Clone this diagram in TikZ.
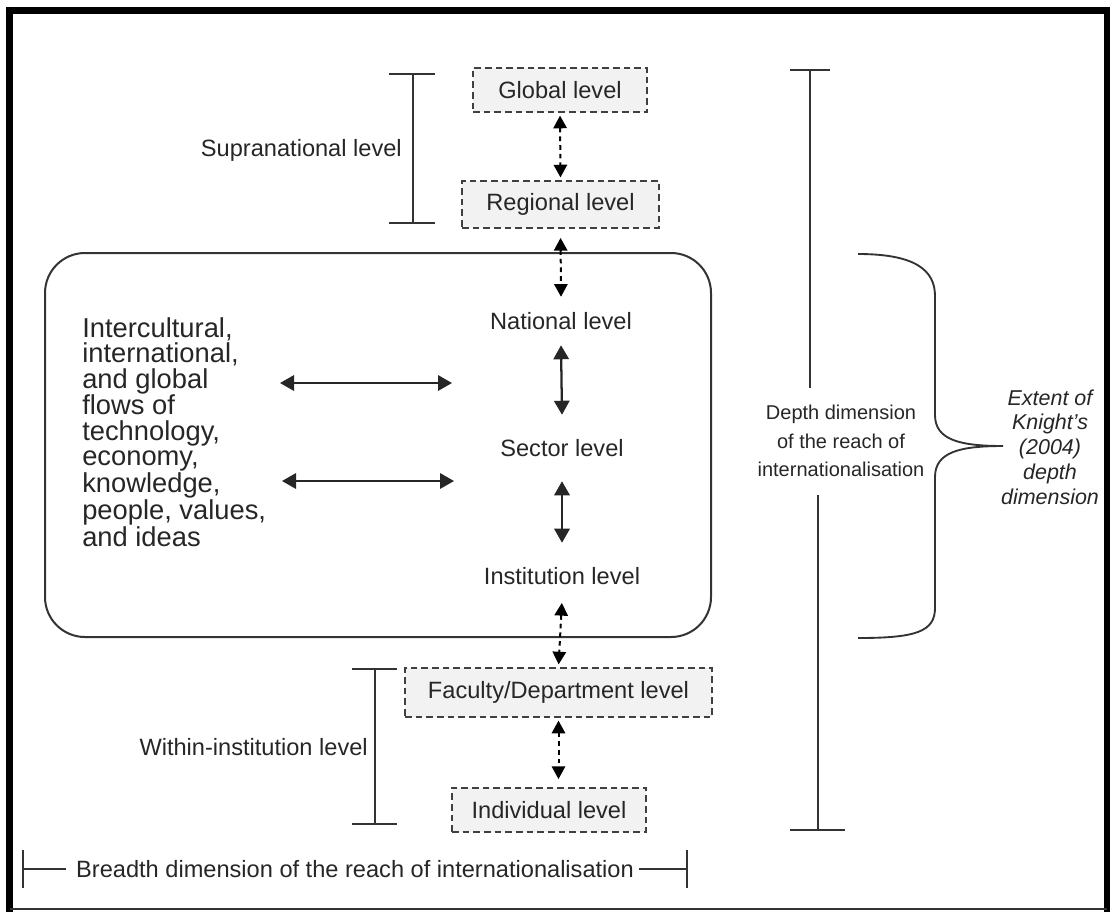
\documentclass[tikz,border=0pt]{standalone}
\usepackage{fontspec}
\setmainfont{Liberation Sans}
\usetikzlibrary{arrows.meta,calc}
\begin{document}
\begin{tikzpicture}[x=0.75pt,y=-0.75pt,
  txt/.style={font=\fontsize{17.7}{19.1}\selectfont, text=black!85, inner sep=0pt},
  lvltxt/.style={txt, minimum height=36pt},
  lvlbox/.style={txt, draw=black!75, fill=black!5, line width=1.4pt, dash pattern=on 5pt off 3pt},
  dasharrow/.style={draw=black, line width=1.5pt, dash pattern=on 3.5pt off 3pt,
    {Triangle[length=9.5pt,width=10pt]}-{Triangle[length=9.5pt,width=10pt]}, shorten >=2pt, shorten <=2pt},
  solidarrow/.style={draw=black!85, line width=1.7pt,
    {Triangle[length=10.5pt,width=11.5pt]}-{Triangle[length=10.5pt,width=11.5pt]}},
  bar/.style={draw=black!80, line width=1.4pt},
  framebar/.style={draw=black, line width=5.25pt},
]
\useasboundingbox (0,0) rectangle (1110,911);
% outer frame
\draw[framebar, line cap=rect] (9.5,909) -- (9.5,10.5) -- (1107,10.5) -- (1107,909);
\draw[draw=black!80, line width=1.5pt] (9.5,909) -- (1107,909);

% rounded region
\draw[draw=black!80, line width=1.5pt, rounded corners=30pt] (45,253) rectangle (711,637);

% level nodes
\node[lvlbox, minimum width=130.5pt, minimum height=33pt] (global) at (560,90) {Global level};
\node[lvlbox, minimum width=147.75pt, minimum height=35.25pt] (regional) at (560.5,204.5) {Regional level};
\node[lvltxt] (national) at (561,321) {National level};
\node[txt, minimum height=49.5pt] (sector) at (562,448) {Sector level};
\node[lvltxt] (institution) at (562,576) {Institution level};
\node[lvlbox, minimum width=230.25pt, minimum height=36.75pt] (faculty) at (558.5,692.5) {Faculty/Department level};
\node[lvlbox, minimum width=145.5pt, minimum height=33pt] (individual) at (549,810) {Individual level};

% vertical connectors
\draw[dasharrow] (global.south) -- (regional.north);
\draw[dasharrow, shorten <=6.75pt, shorten >=0pt] (regional.south) -- (national.north);
\draw[solidarrow] (national.south) -- (sector.north);
\draw[solidarrow, shorten >=6.75pt] (sector.south) -- (institution.north);
\draw[dasharrow] (institution.south) -- (faculty.north);
\draw[dasharrow, shorten >=6pt] (faculty.south) -- (individual.north -| faculty.south);

% flows text and arrows
\node[txt, align=left, anchor=west, font=\fontsize{20.5}{19.1}\selectfont] (flows) at (82,432) {Intercultural,\\international,\\and global\\flows of\\technology,\\economy,\\knowledge,\\people, values,\\and ideas};
\coordinate (fa) at (280,383);
\coordinate (fb) at (452,383);
\coordinate (fc) at (282,481);
\coordinate (fd) at (454,481);
\draw[solidarrow] (fa) -- (fb);
\draw[solidarrow] (fc) -- (fd);

% supranational bracket
\draw[bar] (389,74) -- (435,74) (413,74) -- (413,223) (389,223) -- (435,223);
\node[txt, anchor=east] (supra) at (402,150) {Supranational level};

% within-institution bracket
\draw[bar] (352,669) -- (397,669) (375,669) -- (375,824) (352,824) -- (397,824);
\node[txt, anchor=east] (within) at (368,747) {Within-institution level};

% depth bracket
\draw[bar] (790,70) -- (830,70) (810,70) -- (810,388);
\draw[bar] (818,495) -- (818,830) (790,830) -- (845,830);
\node[txt, align=center, font=\fontsize{15}{21.4}\selectfont] (depth) at (841,441) {Depth dimension\\of the reach of\\internationalisation};

% curly brace
\draw[bar] (858,254) .. controls (915,254) and (935,270) .. (935,296) -- (935,415)
  .. controls (935,440) and (960,446) .. (1003,446)
  .. controls (960,446) and (935,452) .. (935,477) -- (935,608)
  .. controls (935,632) and (915,638) .. (858,638);
\node[txt, align=center, font=\itshape\fontsize{16.1}{18.6}\selectfont] (knight) at (1050,447) {Extent of\\Knight's\\(2004)\\depth\\dimension};

% breadth bar
\draw[bar] (23,850) -- (23,888) (687,850) -- (687,888);
\node[txt] (breadth) at (355,869) {Breadth dimension of the reach of internationalisation};
\draw[bar] (23,869) -- ($(breadth.west)+(-10,0)$);
\draw[bar] ($(breadth.east)+(5,0)$) -- (687,869);
\end{tikzpicture}
\end{document}
